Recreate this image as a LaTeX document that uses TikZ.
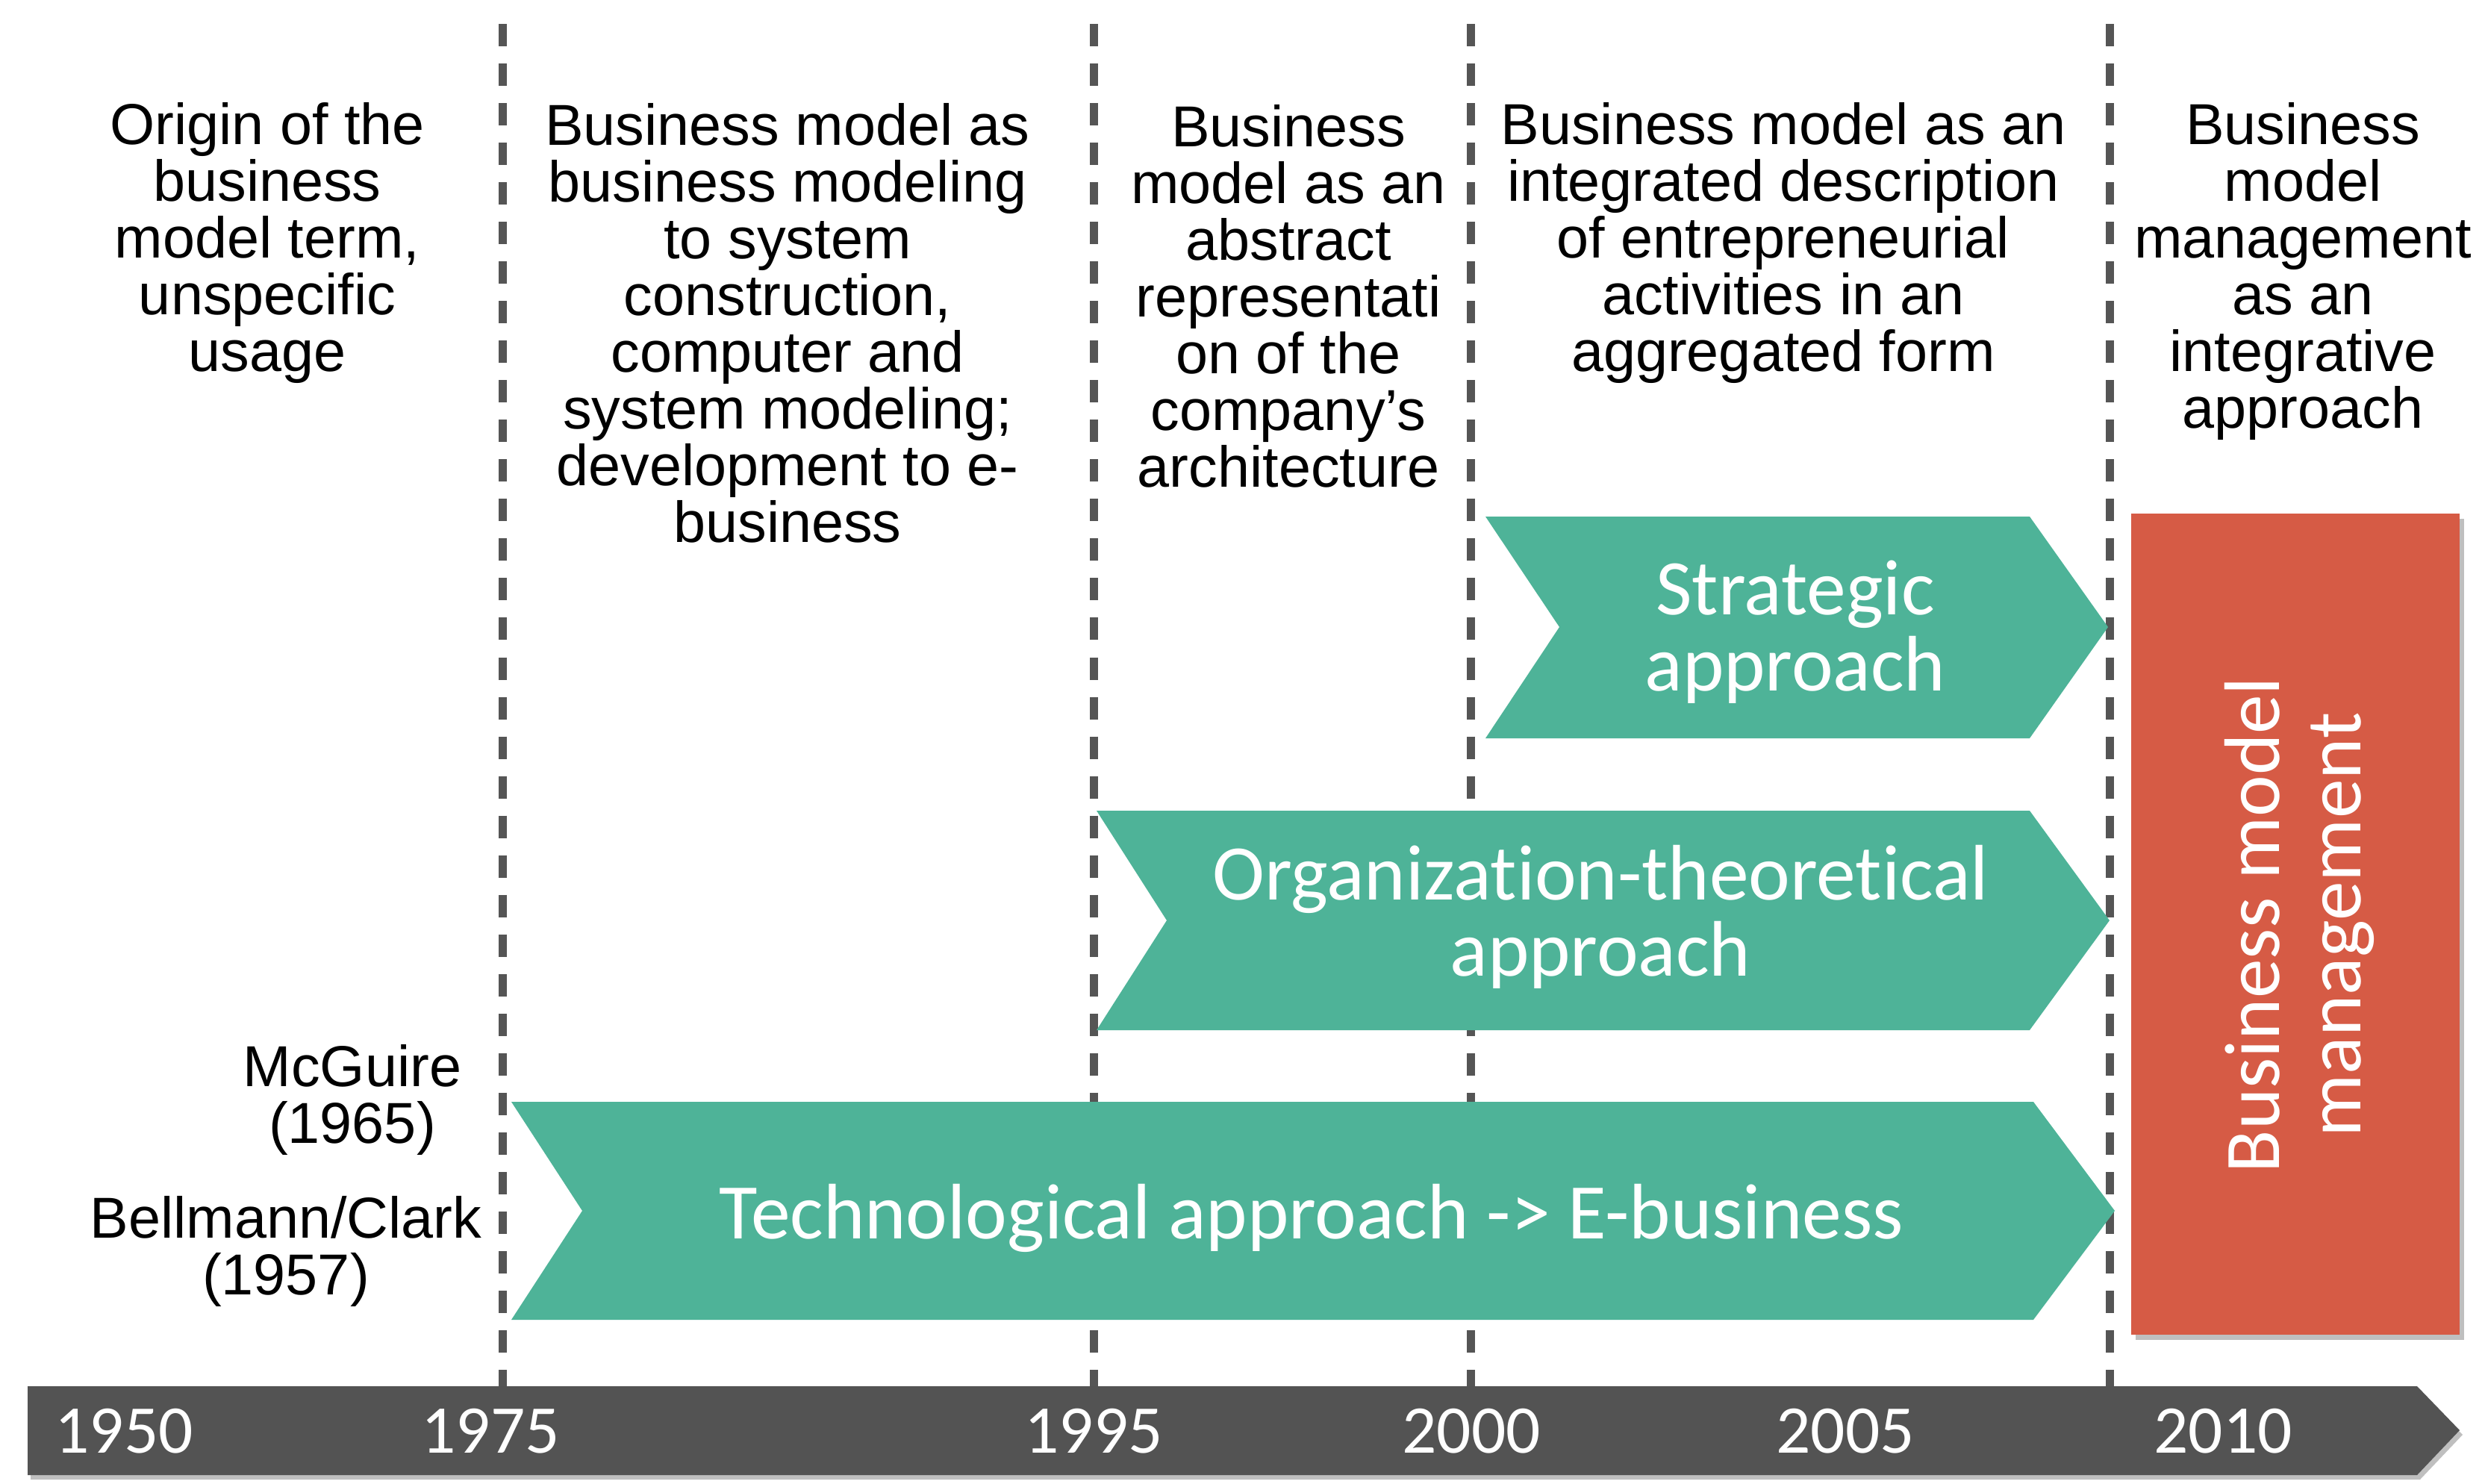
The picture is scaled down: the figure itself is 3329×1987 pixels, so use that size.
\documentclass[tikz,border=0pt]{standalone}
\usepackage{fontspec}
\setmainfont{Liberation Sans}
\newfontfamily\calibri[Ligatures=NoCommon]{Carlito}
\definecolor{approachgreen}{HTML}{4EB398}
\definecolor{bmmred}{HTML}{D65B45}
\definecolor{timegray}{HTML}{535353}
\definecolor{dashgray}{HTML}{555555}
\begin{document}
\begin{tikzpicture}[x=0.01cm,y=-0.01cm,
		era/.style={align=center,inner sep=0pt,anchor=north,font=\fontsize{22}{21.6}\selectfont},
		divider/.style={dashgray,line width=0.11cm,dash pattern=on 0.30cm off 0.23cm},
		chevron/.style={fill=approachgreen},
		chevtext/.style={white,align=center,inner sep=0pt,font=\calibri\fontsize{30}{29}\selectfont},
		year/.style={white,anchor=base,inner sep=0pt,font=\calibri\fontsize{26}{26}\selectfont}]
	\useasboundingbox (0,0) rectangle (3329,1987);
	% eras
	\node[era] (origin) at (358,137) {Origin of the\\business\\model term,\\unspecific\\usage};
	\node[era] (modeling) at (1055,138) {Business model as\\business modeling\\to system\\construction,\\computer and\\system modeling;\\development to e-\\business};
	\node[era] (abstract) at (1726,140) {Business\\model as an\\abstract\\representati\\on of the\\company’s\\architecture};
	\node[era] (integrated) at (2389,137) {Business model as an\\integrated description\\of entrepreneurial\\activities in an\\aggregated form};
	\node[era] (management) at (3085,137) {Business\\model\\management\\as an\\integrative\\approach};
	\node[era] (mcguire) at (472,1399) {McGuire\\(1965)};
	\node[era] (bellmann) at (383,1602) {Bellmann/Clark\\(1957)};
	% dividers
	\foreach \x in {673,1465,1970,2826}
		\draw[divider] (\x,32) -- (\x,1857);
	% approaches
	\fill[chevron] (1990,692) -- (2719,692) -- (2824,840) -- (2719,989) -- (1990,989) -- (2089,840) -- cycle;
	\fill[chevron] (1469,1086) -- (2719,1086) -- (2826,1233) -- (2719,1380) -- (1469,1380) -- (1563,1233) -- cycle;
	\fill[chevron] (685,1476) -- (2724,1476) -- (2833,1622) -- (2724,1768) -- (685,1768) -- (780,1622) -- cycle;
	\node[chevtext,anchor=north] (strategic) at (2405,750) {Strategic\\approach};
	\node[chevtext,anchor=north] (orgtheory) at (2144,1132) {Organization-theoretical\\approach};
	\node[chevtext,anchor=base] (technological) at (1757,1659) {Technological approach -> E-business};
	% business model management
	\fill[black!25] (2861,695) rectangle (3301,1795);
	\fill[bmmred] (2855,688) rectangle (3295,1788);
	\node[white,rotate=90,align=center,inner sep=0pt,font=\calibri\fontsize{30}{31}\selectfont] (bmm) at (3080,1239) {Business model\\management};
	% time line
	\fill[black!25] (41,1863) -- (3242,1863) -- (3299,1922) -- (3242,1982) -- (41,1982) -- cycle;
	\fill[timegray] (37,1857) -- (3238,1857) -- (3295,1916) -- (3238,1976) -- (37,1976) -- cycle;
	\foreach \yr/\x in {1950/166,1975/657,1995/1465,2000/1971,2005/2472,2010/2978}
		\node[year] (y\yr) at (\x,1946) {\yr};
\end{tikzpicture}
\end{document}
